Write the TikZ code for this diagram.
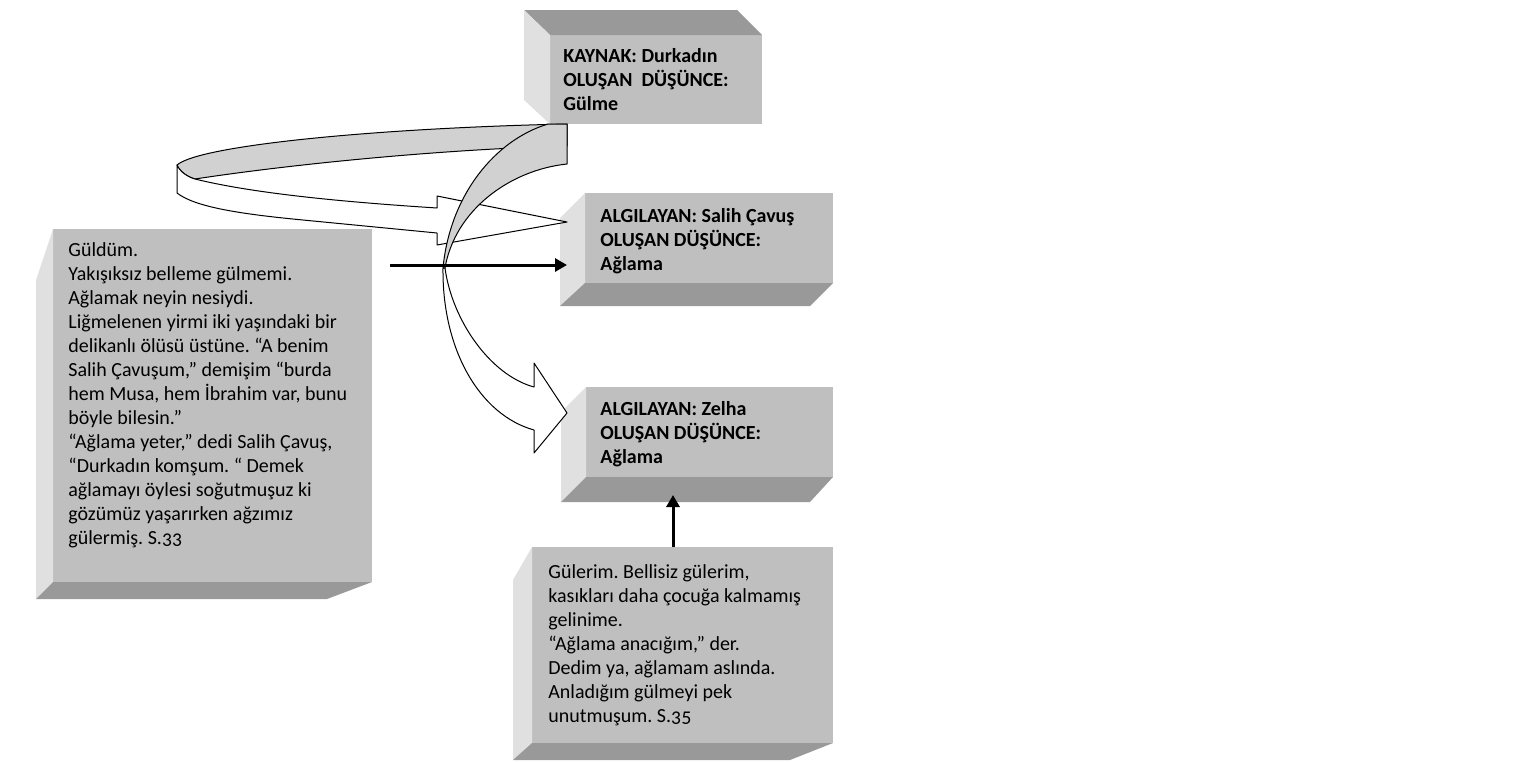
\documentclass[tikz,border=0pt]{standalone}
\usepackage{fontspec}
\setmainfont{Carlito}[Numbers=OldStyle]
\usetikzlibrary{arrows.meta}
\frenchspacing

\begin{document}
\begin{tikzpicture}[x=0.5pt, y=-0.5pt,
        face/.style = {fill=black!25, inner sep=0, outer sep=0, anchor=north west},
        txt/.style = {anchor=north west, inner sep=0, align=flush left, text width=165pt,
            font=\fontsize{10}{12}\selectfont},
        bold/.style = {font=\fontsize{10}{12}\selectfont\bfseries},
        light/.style = {fill=black!12},
        dark/.style = {fill=black!40},
        ribbon/.style = {draw=black, line width=0.5pt, line join=round},
        arr/.style = {-{Triangle[length=6pt,width=6.5pt]}, line width=1.5pt}]
    \useasboundingbox (0,0) rectangle (1532,761);

    % faces
    \node[face, minimum width=106pt, minimum height=44.5pt] (kaynak) at (550,35) {};
    \node[face, minimum width=124pt, minimum height=45pt] (salih) at (585,193) {};
    \node[face, minimum width=123.5pt, minimum height=45pt] (zelha) at (586,387) {};
    \node[face, minimum width=150.5pt, minimum height=98pt] (gulerim) at (532,547) {};
    \node[face, minimum width=159.5pt, minimum height=176.5pt] (guldum) at (53,229) {};

    % bevels
    \fill[dark] (kaynak.north west) -- ++(-26,-25) -- ([shift={(-25,-25)}]kaynak.north east) -- (kaynak.north east) -- cycle;
    \fill[light] (kaynak.north west) -- ++(-26,-25) -- ([shift={(-26,-24)}]kaynak.south west) -- (kaynak.south west) -- cycle;
    \fill[light] (salih.north west) -- ++(-25,25) -- ([shift={(-25,23)}]salih.south west) -- (salih.south west) -- cycle;
    \fill[dark] (salih.south west) -- (salih.south east) -- ++(-23,23) -- ([shift={(-25,23)}]salih.south west) -- cycle;
    \fill[light] (zelha.north west) -- ++(-25,25) -- ([shift={(-25,25)}]zelha.south west) -- (zelha.south west) -- cycle;
    \fill[dark] (zelha.south west) -- (zelha.south east) -- ++(-23,25) -- ([shift={(-25,25)}]zelha.south west) -- cycle;
    \fill[light] (gulerim.north west) -- ++(-19,33) -- ([shift={(-19,17)}]gulerim.south west) -- (gulerim.south west) -- cycle;
    \fill[dark] (gulerim.south west) -- (gulerim.south east) -- ++(-43,17) -- ([shift={(-19,17)}]gulerim.south west) -- cycle;
    \fill[light] (guldum.north west) -- ++(-17,51) -- ([shift={(-17,17)}]guldum.south west) -- (guldum.south west) -- cycle;
    \fill[dark] (guldum.south west) -- (guldum.south east) -- ++(-45,17) -- ([shift={(-17,17)}]guldum.south west) -- cycle;

    % texts
    \node[txt, bold] (kaynaktxt) at ([shift={(13,10)}]kaynak.north west)
        {\strut KAYNAK: Durkadın\\ OLUŞAN\ \ DÜŞÜNCE:\\ Gülme};
    \node[txt, bold] (salihtxt) at ([shift={(15,12)}]salih.north west)
        {\strut ALGILAYAN: Salih Çavuş\\ OLUŞAN DÜŞÜNCE:\\ Ağlama};
    \node[txt, bold] (zelhatxt) at ([shift={(14,11)}]zelha.north west)
        {\strut ALGILAYAN: Zelha\\ OLUŞAN DÜŞÜNCE:\\ Ağlama};
    \node[txt] (gulerimtxt) at ([shift={(16,14)}]gulerim.north west)
        {\strut Gülerim. Bellisiz gülerim,\\
        kasıkları daha çocuğa kalmamış\\
        gelinime.\\
        “Ağlama anacığım,” der.\\
        Dedim ya, ağlamam aslında.\\
        Anladığım gülmeyi pek\\
        unutmuşum. S.35};
    \node[txt] (guldumtxt) at ([shift={(15,10)}]guldum.north west)
        {\strut Güldüm.\\
        Yakışıksız belleme gülmemi.\\
        Ağlamak neyin nesiydi.\\
        Liğmelenen yirmi iki yaşındaki bir\\
        delikanlı ölüsü üstüne. “A benim\\
        Salih Çavuşum,” demişim “burda\\
        hem Musa, hem İbrahim var, bunu\\
        böyle bilesin.”\\
        “Ağlama yeter,” dedi Salih Çavuş,\\
        “Durkadın komşum. “ Demek\\
        ağlamayı öylesi soğutmuşuz ki\\
        gözümüz yaşarırken ağzımız\\
        gülermiş. S.33};

    % curved block arrows
    \filldraw[ribbon, fill=black!18] (567,124) .. controls (380,128) and (200,145) .. (177,165)
        .. controls (180,172) and (188,177) .. (195,179)
        .. controls (300,163) and (450,149) .. (567,146) -- cycle;
    \filldraw[ribbon, fill=white] (177,165) -- (177,193) .. controls (195,207) and (240,214) .. (303,220)
        -- (437,233) -- (437,245) -- (567,222) -- (437,196) -- (437,208)
        .. controls (360,203) and (260,195) .. (195,179)
        .. controls (188,177) and (180,172) .. (177,165) -- cycle;
    \filldraw[ribbon, fill=black!18] (548,124) .. controls (495,140) and (450,195) .. (443,268)
        -- (445,268) .. controls (455,210) and (510,170) .. (567,164) -- (567,124) -- cycle;
    \filldraw[ribbon, fill=white] (443,268) .. controls (442,350) and (480,415) .. (534,430)
        -- (534,453) -- (567,413) -- (534,363) -- (534,387)
        .. controls (490,375) and (452,320) .. (445,268) -- cycle;

    % straight arrows
    \draw[arr] ([shift={(18,36)}]guldum.north east) -- ([shift={(-18,72)}]salih.north west);
    \draw[arr] ([shift={(141,0)}]gulerim.north west) -- ([shift={(87,108)}]zelha.north west);
\end{tikzpicture}
\end{document}
